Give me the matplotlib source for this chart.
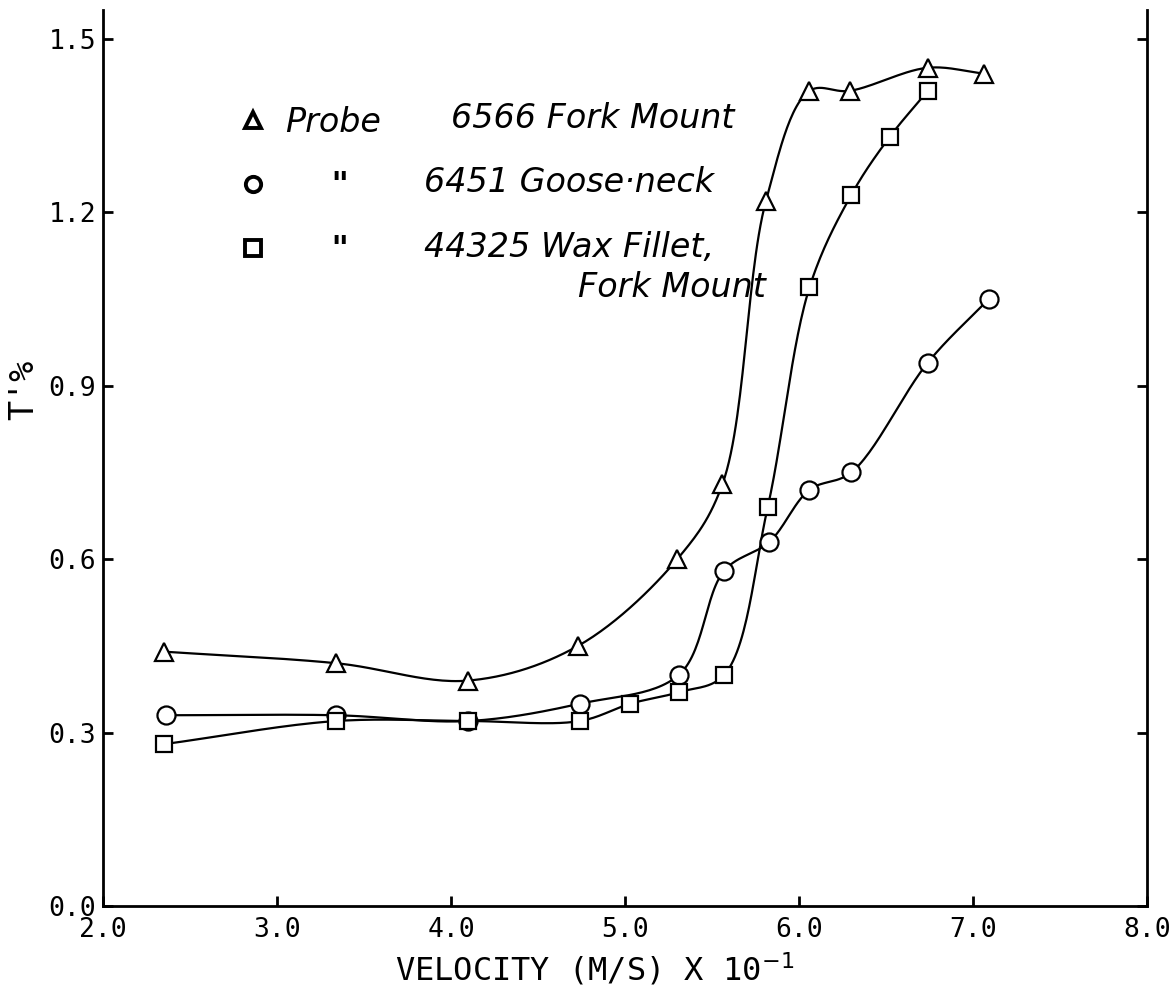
import numpy as np
import matplotlib
matplotlib.use('Agg')
import matplotlib.pyplot as plt
from matplotlib.lines import Line2D

# Values (velocity in m/s x 10^-1, T' in %)
x_fork = [2.35, 3.34, 4.10, 4.73, 5.30, 5.56, 5.81, 6.06, 6.29, 6.74, 7.06]
y_fork = [0.44, 0.42, 0.39, 0.45, 0.60, 0.73, 1.22, 1.41, 1.41, 1.45, 1.44]

x_goose = [2.36, 3.34, 4.10, 4.74, 5.31, 5.57, 5.83, 6.06, 6.30, 6.74, 7.09]
y_goose = [0.33, 0.33, 0.32, 0.35, 0.40, 0.58, 0.63, 0.72, 0.75, 0.94, 1.05]

x_wax = [2.35, 3.34, 4.10, 4.74, 5.03, 5.31, 5.57, 5.82, 6.06, 6.30, 6.52, 6.74]
y_wax = [0.28, 0.32, 0.32, 0.32, 0.35, 0.37, 0.40, 0.69, 1.07, 1.23, 1.33, 1.41]

x_ticks = [2.0, 3.0, 4.0, 5.0, 6.0, 7.0, 8.0]
y_ticks = [0.0, 0.3, 0.6, 0.9, 1.2, 1.5]

legend_keys = ['^', 'o', 's']
legend_first = ['Probe', '    "', '    "']


def smooth(xs, ys, n=30, alpha=0.5):
    # centripetal Catmull-Rom through the measured points (hand-drawn curve look)
    sx, sy = 1044 / 6.0, 896 / 1.55
    P = np.column_stack([np.asarray(xs) * sx, np.asarray(ys) * sy])
    P = np.vstack([2 * P[0] - P[1], P, 2 * P[-1] - P[-2]])
    out = []
    for i in range(1, len(P) - 2):
        p0, p1, p2, p3 = P[i - 1], P[i], P[i + 1], P[i + 2]
        t0 = 0.0
        t1 = t0 + np.linalg.norm(p1 - p0) ** alpha
        t2 = t1 + np.linalg.norm(p2 - p1) ** alpha
        t3 = t2 + np.linalg.norm(p3 - p2) ** alpha
        t = np.linspace(t1, t2, n)[:, None]
        a1 = (t1 - t) / (t1 - t0) * p0 + (t - t0) / (t1 - t0) * p1
        a2 = (t2 - t) / (t2 - t1) * p1 + (t - t1) / (t2 - t1) * p2
        a3 = (t3 - t) / (t3 - t2) * p2 + (t - t2) / (t3 - t2) * p3
        b1 = (t2 - t) / (t2 - t0) * a1 + (t - t0) / (t2 - t0) * a2
        b2 = (t3 - t) / (t3 - t1) * a2 + (t - t1) / (t3 - t1) * a3
        c = (t2 - t) / (t2 - t1) * b1 + (t - t1) / (t2 - t1) * b2
        out.append(c)
    c = np.vstack(out)
    return c[:, 0] / sx, c[:, 1] / sy


fig = plt.figure(figsize=(11.76, 9.94), dpi=100)
ax = fig.add_axes([0.0876, 0.0885, 0.8878, 0.9015])

for xs, ys, mk in [(x_fork, y_fork, '^'), (x_goose, y_goose, 'o'), (x_wax, y_wax, 's')]:
    cx, cy = smooth(xs, ys)
    ax.plot(cx, cy, color='black', lw=1.6, zorder=2)
    ax.plot(xs, ys, ls='none', marker=mk, ms=13 if mk != 's' else 12,
            mfc='white', mec='black', mew=1.6, zorder=3)

ax.set_xlim(2.0, 8.0)
ax.set_ylim(0.0, 1.55)
ax.set_xticks(x_ticks)
ax.set_yticks(y_ticks)
ax.set_xticklabels(['%.1f' % v for v in x_ticks])
ax.set_yticklabels(['%.1f' % v for v in y_ticks])
ax.spines['top'].set_visible(False)
for s in ['left', 'right', 'bottom']:
    ax.spines[s].set_linewidth(2.0)
ax.tick_params(axis='both', direction='in', length=7, width=2.0,
               labelsize=19, labelfontfamily='DejaVu Sans Mono')
ax.tick_params(axis='x', pad=8)
ax.tick_params(axis='y', pad=5, right=True)

ax.set_xlabel('VELOCITY (M/S) X 10$^{-1}$', fontsize=23, family='DejaVu Sans Mono')
ax.xaxis.set_label_coords(0.471, -0.050)
ax.set_ylabel("T'%", fontsize=24, family='DejaVu Sans Mono')
ax.yaxis.set_label_coords(-0.060, 0.576)

handles = [Line2D([], [], ls='none', marker=m, ms=11, mfc='white', mec='black', mew=2.8)
           for m in legend_keys]
leg = ax.legend(handles, legend_first, loc='upper left', bbox_to_anchor=(0.128, 0.893),
                frameon=False, borderpad=0, borderaxespad=0, handlelength=1.0,
                handletextpad=0.45, labelspacing=0.93,
                prop={'family': 'DejaVu Sans', 'style': 'italic', 'size': 24})
for t in leg.get_texts()[1:]:
    t.set_fontweight('bold')

txt = dict(fontsize=24, style='italic', family='DejaVu Sans', va='center',
           transform=ax.transAxes)
ax.text(0.333, 0.879, '6566 Fork Mount', **txt)
ax.text(0.307, 0.807, '6451 Goose\u00b7neck', **txt)
ax.text(0.307, 0.735, '44325 Wax Fillet,', **txt)
ax.text(0.455, 0.690, 'Fork Mount', **txt)

fig.savefig('out.png', dpi=100)
